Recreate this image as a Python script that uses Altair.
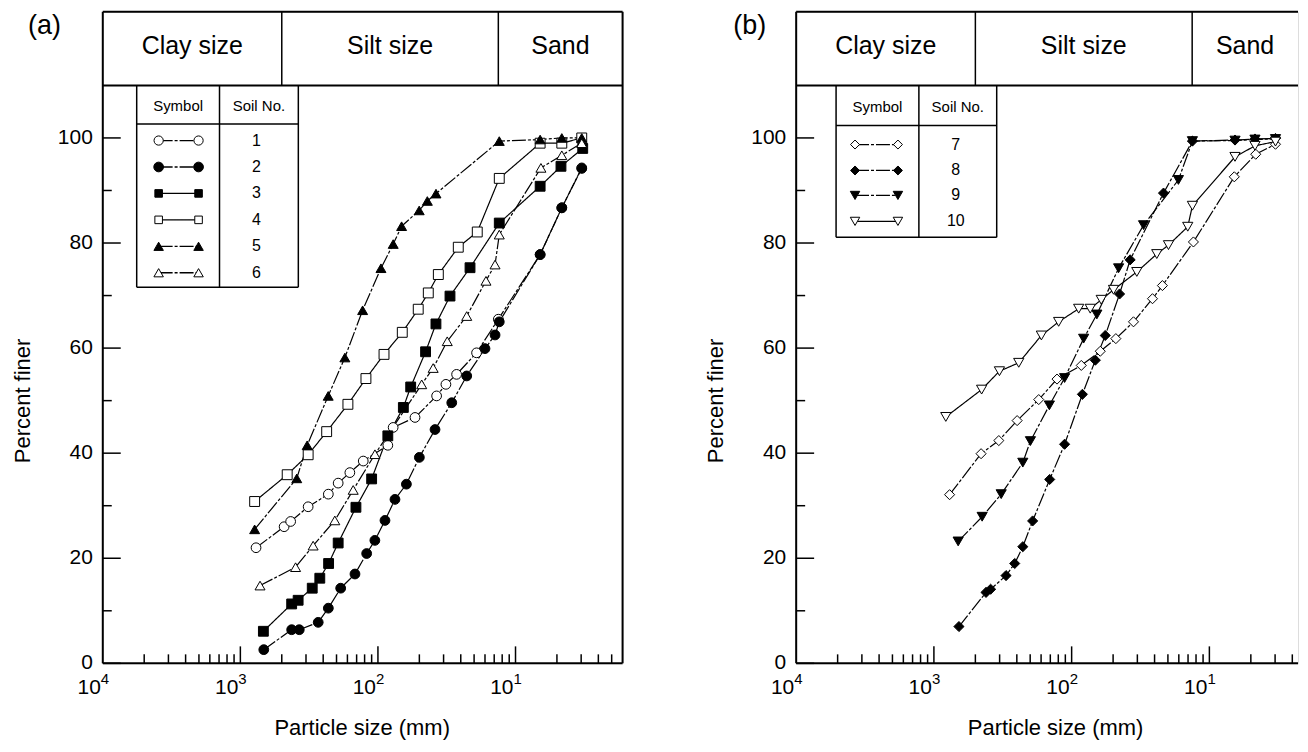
import altair as alt
import pandas as pd

# ---------------- data ----------------
# particle size (mm) and percent finer (%)
soil1_size = [0.0013, 0.00208, 0.00232, 0.00311, 0.00436, 0.00514, 0.00625, 0.00782, 0.0118, 0.0129,
              0.0186, 0.0267, 0.0312, 0.0373, 0.0521, 0.075, 0.151, 0.217, 0.303]
soil1_finer = [22.0, 26.0, 27.0, 29.8, 32.2, 34.3, 36.3, 38.5, 41.5, 44.9,
               46.8, 50.9, 53.1, 55.0, 59.1, 65.5, 77.8, 86.7, 94.3]
soil2_size = [0.00148, 0.00236, 0.00268, 0.00368, 0.00436, 0.00536, 0.00681, 0.00828, 0.0095, 0.01125, 0.0133,
              0.0161, 0.02, 0.026, 0.0344, 0.0442, 0.06, 0.071, 0.0762, 0.151, 0.217, 0.303]
soil2_finer = [2.6, 6.4, 6.4, 7.8, 10.5, 14.3, 17.0, 20.9, 23.4, 27.2, 31.2,
               34.1, 39.2, 44.5, 49.6, 54.7, 59.9, 62.5, 65.0, 77.8, 86.7, 94.2]
soil3_size = [0.00147, 0.00236, 0.00263, 0.00333, 0.00378, 0.00438, 0.00514, 0.00692, 0.009, 0.0118,
              0.0153, 0.0173, 0.0222, 0.0264, 0.0334, 0.0467, 0.0762, 0.151, 0.214, 0.308]
soil3_finer = [6.1, 11.3, 12.0, 14.3, 16.2, 19.0, 22.9, 29.7, 35.1, 43.3,
               48.7, 52.6, 59.3, 64.6, 69.9, 75.3, 83.8, 90.8, 94.6, 98.0]
soil4_size = [0.00127, 0.00219, 0.00311, 0.00424, 0.00605, 0.00818, 0.01107, 0.01503, 0.01963,
              0.02323, 0.02748, 0.03837, 0.05272, 0.0762, 0.151, 0.217, 0.303]
soil4_finer = [30.8, 35.9, 39.7, 44.1, 49.3, 54.2, 58.8, 63.0, 67.4,
               70.5, 74.0, 79.2, 82.1, 92.3, 99.0, 99.0, 100.0]
soil5_size = [0.00127, 0.00257, 0.00306, 0.00435, 0.00575, 0.00774, 0.01052, 0.01291,
              0.01486, 0.01995, 0.02286, 0.02642, 0.0762, 0.151, 0.217, 0.303]
soil5_finer = [25.5, 35.2, 41.5, 50.9, 58.2, 67.2, 75.2, 79.8,
               83.2, 86.2, 88.0, 89.4, 99.4, 99.7, 100.0, 100.0]
soil6_size = [0.00139, 0.00252, 0.00338, 0.00486, 0.00661, 0.00951, 0.0208, 0.0252,
              0.0319, 0.0442, 0.061, 0.071, 0.0762, 0.153, 0.217, 0.303]
soil6_finer = [14.8, 18.3, 22.4, 27.2, 33.0, 39.8, 53.1, 56.2,
               61.3, 66.1, 72.8, 75.9, 81.6, 94.3, 96.7, 99.0]

soil7_size = [0.0013, 0.0022, 0.00296, 0.00402, 0.00577, 0.00783, 0.01175, 0.01614,
              0.02094, 0.02812, 0.03864, 0.0456, 0.0766, 0.1517, 0.217, 0.302]
soil7_finer = [32.1, 39.9, 42.4, 46.2, 50.2, 54.1, 56.7, 59.4,
               61.8, 65.0, 69.4, 71.9, 80.2, 92.6, 96.9, 98.8]
soil8_size = [0.00152, 0.00239, 0.00258, 0.00334, 0.00386, 0.00442, 0.00521, 0.00693, 0.00889, 0.01197,
              0.01486, 0.01754, 0.02228, 0.0266, 0.04645, 0.0753, 0.1535, 0.2143, 0.302]
soil8_finer = [7.0, 13.5, 14.1, 16.7, 19.0, 22.2, 27.1, 35.0, 41.7, 51.2,
               57.7, 62.4, 70.3, 76.8, 89.5, 99.4, 99.6, 99.8, 99.9]
soil9_size = [0.0015, 0.00224, 0.00308, 0.00442, 0.00502, 0.00689, 0.00889, 0.01222,
              0.01524, 0.02193, 0.03327, 0.05957, 0.0753, 0.1535, 0.2143, 0.302]
soil9_finer = [23.2, 27.9, 32.2, 38.2, 42.3, 49.1, 54.3, 61.8,
               66.4, 75.2, 83.4, 92.0, 99.4, 99.5, 99.7, 99.8]
soil10_size = [0.00122, 0.00222, 0.00299, 0.00413, 0.00603, 0.00805, 0.01125, 0.01365, 0.0164,
               0.02014, 0.02972, 0.0415, 0.05047, 0.06966, 0.0753, 0.1535, 0.2143, 0.302]
soil10_finer = [46.9, 52.1, 55.6, 57.2, 62.4, 65.0, 67.5, 67.5, 69.2,
                71.1, 74.5, 77.9, 79.6, 83.1, 87.1, 96.4, 98.5, 99.3]

zone_names = ["Clay size", "Silt size", "Sand"]
zone_bounds = [0.002, 0.075]          # clay/silt and silt/sand limits (mm)
decades = [1e-4, 1e-3, 1e-2, 1e-1]
decade_base = ["10", "10", "10", "10"]
decade_exp = ["4", "3", "2", "1"]
y_label_values = [0, 20, 40, 60, 80, 100]
y_label_text = ["0", "20", "40", "60", "80", "100"]

# ---------------- styling ----------------
FONT = "Liberation Sans"
H = 653
Y_TOP = 124
HEADER_LINE = 110
X_MIN = 1e-4
DASHDOT = [14, 2, 3, 2]
SOLID = [1, 0]

# soil number -> (shape, fill, size, dash)
style = {
    "1": ("circle", "white", 95, DASHDOT),
    "2": ("circle", "black", 105, DASHDOT),
    "3": ("square", "black", 64, SOLID),
    "4": ("square", "white", 64, SOLID),
    "5": ("triangle-up", "black", 100, DASHDOT),
    "6": ("triangle-up", "white", 100, DASHDOT),
    "7": ("diamond", "white", 90, DASHDOT),
    "8": ("diamond", "black", 90, DASHDOT),
    "9": ("triangle-down", "black", 100, DASHDOT),
    "10": ("triangle-down", "white", 100, SOLID),
}
ALL = list(style.keys())

one = pd.DataFrame({"k": [0]})


def vrule(x, y1, y2, w=1.5):
    return alt.Chart(one).mark_rule(color="black", strokeWidth=w).encode(
        x=alt.value(x), y=alt.value(y1), y2=alt.value(y2))


def hrule(y, x1, x2, w=1.5, dash=None):
    kw = dict(color="black", strokeWidth=w)
    if dash is not None:
        kw["strokeDash"] = dash
    return alt.Chart(one).mark_rule(**kw).encode(
        x=alt.value(x1), x2=alt.value(x2), y=alt.value(y))


def make_panel(letter, soil_data, xmax, width, leg, right_border):
    rows = []
    for name, sizes, finer in soil_data:
        for d, p in zip(sizes, finer):
            rows.append({"soil": name, "d": d, "p": p})
    df = pd.DataFrame(rows)
    names = [s[0] for s in soil_data]

    xs = alt.Scale(type="log", domain=[X_MIN, xmax], nice=False)
    ys = alt.Scale(domain=[0, Y_TOP], nice=False, zero=False)
    X = lambda f: alt.X(f, scale=xs, axis=None)
    Y = lambda f: alt.Y(f, scale=ys, axis=None)

    lines = alt.Chart(df).mark_line(color="black", strokeWidth=1.2).encode(
        x=X("d:Q"), y=Y("p:Q"), detail="soil:N",
        strokeDash=alt.StrokeDash("soil:N", scale=alt.Scale(domain=ALL, range=[style[n][3] for n in ALL]),
                                  legend=None),
    )
    points = alt.Chart(df).mark_point(filled=True, stroke="black", strokeWidth=1, opacity=1).encode(
        x=X("d:Q"), y=Y("p:Q"),
        shape=alt.Shape("soil:N", scale=alt.Scale(domain=ALL, range=[style[n][0] for n in ALL]), legend=None),
        fill=alt.Fill("soil:N", scale=alt.Scale(domain=ALL, range=[style[n][1] for n in ALL]), legend=None),
        size=alt.Size("soil:N", scale=alt.Scale(domain=ALL, range=[style[n][2] for n in ALL]), legend=None),
    )

    # frame and header boxes
    xb = [X_MIN, xmax] if right_border else [X_MIN]
    frame_v = alt.Chart(pd.DataFrame({"v": xb})).mark_rule(color="black", strokeWidth=2).encode(x=X("v:Q"))
    frame_h = alt.Chart(pd.DataFrame({"v": [0, HEADER_LINE, Y_TOP]})).mark_rule(
        color="black", strokeWidth=2).encode(y=Y("v:Q"))
    dividers = alt.Chart(pd.DataFrame({"v": zone_bounds, "y1": [HEADER_LINE] * 2, "y2": [Y_TOP] * 2})).mark_rule(
        color="black", strokeWidth=1.5).encode(x=X("v:Q"), y=Y("y1:Q"), y2="y2:Q")
    cells = [X_MIN] + zone_bounds + [xmax]
    centers = [(cells[i] * cells[i + 1]) ** 0.5 for i in range(3)]
    header_text = alt.Chart(pd.DataFrame({"name": zone_names, "c": centers, "y": [117.4] * 3})).mark_text(
        fontSize=25, font=FONT, color="black", baseline="middle").encode(
        x=X("c:Q"), y=Y("y:Q"), text="name:N")

    # inward ticks
    minor_x = [k * 10.0 ** n for n in range(-4, 0) for k in range(2, 10) if k * 10.0 ** n <= xmax]
    major_x = [v for v in decades if v > X_MIN]
    tx_minor = alt.Chart(pd.DataFrame({"v": minor_x})).mark_rule(color="black", strokeWidth=1.5).encode(
        x=X("v:Q"), y=alt.value(H), y2=alt.value(H - 9))
    tx_major = alt.Chart(pd.DataFrame({"v": major_x})).mark_rule(color="black", strokeWidth=1.5).encode(
        x=X("v:Q"), y=alt.value(H), y2=alt.value(H - 17))
    ty_major = alt.Chart(pd.DataFrame({"v": y_label_values})).mark_rule(color="black", strokeWidth=1.5).encode(
        y=Y("v:Q"), x=alt.value(0), x2=alt.value(18))
    ty_minor = alt.Chart(pd.DataFrame({"v": [10, 30, 50, 70, 90]})).mark_rule(
        color="black", strokeWidth=1.5).encode(y=Y("v:Q"), x=alt.value(0), x2=alt.value(9))

    # tick labels
    lab_df = pd.DataFrame({"v": decades, "b": decade_base, "e": decade_exp})
    lab_base = alt.Chart(lab_df).mark_text(fontSize=21, font=FONT, color="black", align="right",
                                           baseline="alphabetic", dx=-2).encode(
        x=X("v:Q"), y=alt.value(H + 31), text="b:N")
    lab_exp = alt.Chart(lab_df).mark_text(fontSize=15, font=FONT, color="black", align="left",
                                          baseline="alphabetic", dx=-2).encode(
        x=X("v:Q"), y=alt.value(H + 21), text="e:N")
    ylab = alt.Chart(pd.DataFrame({"v": y_label_values, "t": y_label_text})).mark_text(
        fontSize=21, font=FONT, color="black", align="right", baseline="middle").encode(
        y=Y("v:Q"), x=alt.value(-10), text="t:N")

    # axis titles
    ytitle = alt.Chart(one).mark_text(text="Percent finer", fontSize=22, font=FONT, color="black",
                                      angle=270, align="center", baseline="middle").encode(
        x=alt.value(-80), y=alt.value(390))
    xtitle = alt.Chart(one).mark_text(text="Particle size (mm)", fontSize=22, font=FONT, color="black",
                                      align="center", baseline="alphabetic").encode(
        x=alt.value(260), y=alt.value(H + 72))

    letter_txt = alt.Chart(one).mark_text(text=letter, fontSize=27, font=FONT, color="black",
                                          align="left", baseline="top").encode(
        x=alt.value(leg["letter_x"]), y=alt.value(1))

    # legend table
    L, M, R = leg["left"], leg["mid"], leg["right"]
    T, HL, B = 74, leg["head"], leg["bottom"]
    lg = [vrule(L, T, B), vrule(M, T, B), vrule(R, T, B), hrule(HL, L, R), hrule(B, L, R)]
    lg.append(alt.Chart(one).mark_text(text="Symbol", fontSize=15, font=FONT, color="black",
                                       baseline="middle").encode(
        x=alt.value((L + M) / 2), y=alt.value(leg["hdr_y"])))
    lg.append(alt.Chart(one).mark_text(text="Soil No.", fontSize=15, font=FONT, color="black",
                                       baseline="middle").encode(
        x=alt.value((M + R) / 2), y=alt.value(leg["hdr_y"])))
    m1, m2 = leg["mk"]
    for name, yrow in zip(names, leg["rows"]):
        shp, fill, size, dash = style[name]
        lg.append(hrule(yrow, m1, m2, w=1.3, dash=dash))
        for mx in (m1, m2):
            lg.append(alt.Chart(one).mark_point(shape=shp, fill=fill, filled=True, stroke="black",
                                                strokeWidth=1, size=size * 0.9, opacity=1).encode(
                x=alt.value(mx), y=alt.value(yrow)))
        lg.append(alt.Chart(one).mark_text(text=name, fontSize=16, font=FONT, color="black",
                                           baseline="middle").encode(
            x=alt.value(leg["num_x"]), y=alt.value(yrow)))

    layers = [lines, points, frame_v, frame_h, dividers, header_text,
              tx_minor, tx_major, ty_major, ty_minor, lab_base, lab_exp, ylab,
              ytitle, xtitle, letter_txt] + lg
    return alt.layer(*layers).properties(width=width, height=H)


leg_a = dict(left=34, mid=117, right=196, head=112.5, bottom=276,
             rows=[129, 155.5, 182, 208.5, 235, 261.5], mk=(56, 96), num_x=154, hdr_y=94, letter_x=-75)
leg_b = dict(left=40, mid=123, right=201, head=114, bottom=226,
             rows=[133, 159, 184, 210], mk=(59, 102), num_x=160, hdr_y=95, letter_x=-63)

panel_a = make_panel("(a)", [("1", soil1_size, soil1_finer), ("2", soil2_size, soil2_finer),
                             ("3", soil3_size, soil3_finer), ("4", soil4_size, soil4_finer),
                             ("5", soil5_size, soil5_finer), ("6", soil6_size, soil6_finer)],
                     0.6, 521, leg_a, True)
panel_b = make_panel("(b)", [("7", soil7_size, soil7_finer), ("8", soil8_size, soil8_finer),
                             ("9", soil9_size, soil9_finer), ("10", soil10_size, soil10_finer)],
                     0.44, 503, leg_b, False)

chart = alt.hconcat(panel_a, panel_b, spacing=174, bounds="flush").properties(
    padding={"left": 3, "top": 1, "right": 0, "bottom": 0}
).configure_view(stroke=None).configure(font=FONT, background="white")

chart.save("out.html", embed_options={"renderer": "svg", "actions": False})
